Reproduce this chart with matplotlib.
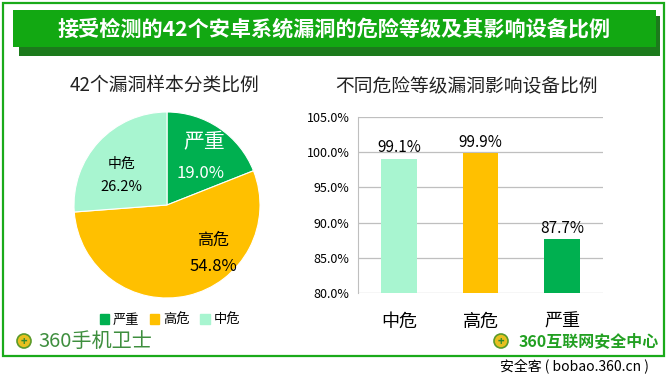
import matplotlib
matplotlib.use("Agg")
import matplotlib.pyplot as plt
from matplotlib.patches import Rectangle, Circle
from matplotlib.ticker import FuncFormatter

plt.rcParams['font.family'] = ['Noto Sans CJK SC', 'DejaVu Sans']

W, H = 668, 384

# data
pie_labels = ['严重', '高危', '中危']
pie_values = [19.0, 54.8, 26.2]
bar_labels = ['中危', '高危', '严重']
bar_values = [99.1, 99.9, 87.7]

c_severe = '#00B050'
c_high = '#FFC000'
c_mid = '#A8F5D0'
pie_colors = [c_severe, c_high, c_mid]
bar_colors = [c_mid, c_high, c_severe]


def px(x0, y0, x1, y1):
    return [x0 / W, 1 - y1 / H, (x1 - x0) / W, (y1 - y0) / H]


fig = plt.figure(figsize=(W / 100, H / 100), dpi=100)

# background frame / banner
bg = fig.add_axes([0, 0, 1, 1])
bg.set_xlim(0, W)
bg.set_ylim(H, 0)
bg.axis('off')
bg.add_patch(Rectangle((3, 3), 661, 353, fill=False, edgecolor='#1AAA1A', lw=1.6))
bg.add_patch(Rectangle((19, 16), 641, 40, facecolor='#1C7A1C', edgecolor='none'))
bg.add_patch(Rectangle((13, 10), 643, 37, facecolor='#12A812', edgecolor='none'))
bg.text(334, 29, '接受检测的42个安卓系统漏洞的危险等级及其影响设备比例', color='white',
        fontsize=15.2, fontweight='bold', ha='center', va='center')

# logos
for cx, cy, r in [(24, 341, 7), (501, 341, 7)]:
    bg.add_patch(Circle((cx, cy), r, facecolor='#E8C020', edgecolor='#5A9A2A', lw=1.2))
    bg.text(cx, cy, '+', color='#2E8B2E', fontsize=8, fontweight='bold', ha='center', va='center')
bg.text(38, 341, '360手机卫士', color='#3E8E3E', fontsize=14.5, ha='left', va='center')
bg.text(519, 341, '360互联网安全中心', color='#22A022', fontsize=11.5, fontweight='bold',
        ha='left', va='center')
bg.text(500, 367, '安全客 ( bobao.360.cn )', color='black', fontsize=10, ha='left', va='center')

# pie chart
bg.text(164, 85, '42个漏洞样本分类比例', fontsize=13.5, ha='center', va='center', color='#222222')
pa = fig.add_axes(px(74, 112, 260, 298))
wedges, _ = pa.pie(pie_values, colors=pie_colors, startangle=90, counterclock=False,
                   wedgeprops=dict(edgecolor='white', linewidth=0.8))
pa.set_xlim(-1.0, 1.0)
pa.set_ylim(-1.0, 1.0)
pa.set_aspect('equal')
pa.text(0.40, 0.68, pie_labels[0], color='white', fontsize=15, ha='center', va='center')
pa.text(0.36, 0.34, f'{pie_values[0]:.1f}%', color='white', fontsize=12, ha='center', va='center')
pa.text(0.50, -0.38, pie_labels[1], color='black', fontsize=11.5, ha='center', va='center')
pa.text(0.50, -0.66, f'{pie_values[1]:.1f}%', color='black', fontsize=12, ha='center', va='center')
pa.text(-0.49, 0.44, pie_labels[2], color='black', fontsize=10, ha='center', va='center')
pa.text(-0.49, 0.19, f'{pie_values[2]:.1f}%', color='black', fontsize=10.5, ha='center', va='center')

handles = [Rectangle((0, 0), 1, 1, color=c) for c in pie_colors]
fig.legend(handles, pie_labels, loc='center', bbox_to_anchor=(170 / W, 1 - 320 / H), ncol=3,
           frameon=False, fontsize=9.5, handlelength=0.7, handleheight=0.7, handletextpad=0.3,
           columnspacing=0.8)

# bar chart
bg.text(466, 87, '不同危险等级漏洞影响设备比例', fontsize=13.5, ha='center', va='center', color='#222222')
ba = fig.add_axes(px(358, 117, 603, 293))
x = range(len(bar_values))
bars = ba.bar(x, [v / 100 for v in bar_values], color=bar_colors, width=0.44, zorder=3)
ba.set_ylim(0.80, 1.05)
ba.set_xlim(-0.5, 2.5)
ba.set_yticks([0.80, 0.85, 0.90, 0.95, 1.00, 1.05])
ba.yaxis.set_major_formatter(FuncFormatter(lambda v, p: f'{v * 100:.1f}%'))
ba.grid(axis='y', color='#BFBFBF', lw=0.9, zorder=0)
for s in ['top', 'right', 'bottom']:
    ba.spines[s].set_visible(False)
ba.spines['left'].set_color('#BFBFBF')
ba.tick_params(axis='both', length=0)
ba.tick_params(axis='y', labelsize=9, pad=6)
ba.set_xticks(list(x))
ba.set_xticklabels(bar_labels, fontsize=13)
ba.tick_params(axis='x', pad=14)
for b, v in zip(bars, bar_values):
    ba.text(b.get_x() + b.get_width() / 2, v / 100 + 0.003, f'{v:.1f}%', ha='center',
            va='bottom', fontsize=11)

fig.savefig('out.png', dpi=100)
